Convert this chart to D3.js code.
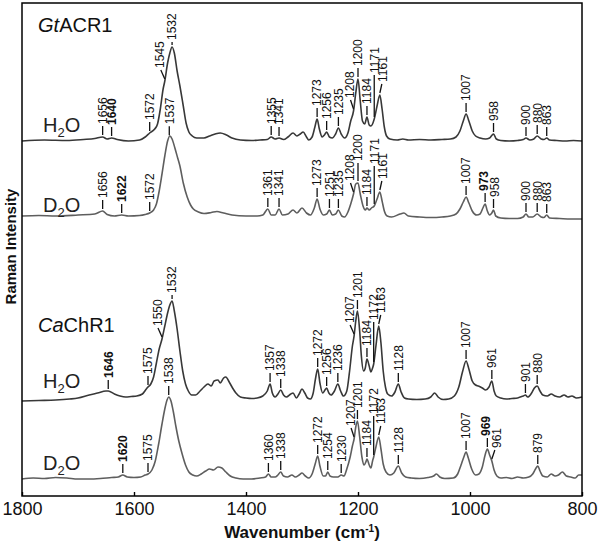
<!DOCTYPE html>
<html>
<head>
<meta charset="utf-8">
<script src="https://cdnjs.cloudflare.com/ajax/libs/d3/7.8.5/d3.min.js"></script>
<style>
  body { margin: 0; background: #fff; }
  svg { font-family: "Liberation Sans", Arial, sans-serif; }
</style>
</head>
<body>
<svg width="600" height="546"></svg>
<script>
// spectra: [wavenumber, intensity above trace baseline]
const gtH2O = [[1800,0],[1760,1],[1720,0.5],[1690,1.5],[1670,2.5],[1656,4],[1648,2],[1640,3],[1630,1.5],[1610,0],[1590,1],[1580,4],[1572,8],[1563,12],[1558,17],[1553,32],[1548,52],[1545,60],[1540,78],[1536,88],[1532,94],[1528,88],[1523,70],[1518,55],[1512,35],[1507,18],[1502,9],[1496,5],[1488,3],[1475,3],[1465,5],[1455,7],[1446,8],[1435,6],[1425,3],[1410,1],[1390,0.5],[1375,1],[1362,1.5],[1355,4],[1348,2],[1341,3],[1333,1.5],[1325,4],[1316,8],[1309,5],[1303,7],[1298,9],[1292,4],[1288,1],[1282,4],[1277,14],[1273,22],[1269,12],[1264,4],[1260,6],[1256,9],[1251,4],[1246,3],[1240,7],[1235,13],[1230,7],[1224,3],[1218,8],[1213,20],[1208,30],[1204,48],[1200,62],[1196,40],[1192,20],[1188,17],[1184,24],[1180,16],[1177,15],[1171,22],[1166,35],[1161,46],[1157,32],[1153,14],[1149,5],[1143,2],[1130,1],[1120,2],[1110,1],[1090,1.5],[1070,1],[1050,1.5],[1035,2],[1025,4],[1018,10],[1012,20],[1007,27],[1002,20],[996,10],[990,5],[982,3],[972,2],[965,3],[958,7],[953,2],[945,0.5],[930,0],[915,0.5],[905,1.5],[900,3],[893,1],[886,2],[880,5],[873,2],[868,1.5],[863,3],[858,1],[845,0.5],[830,0],[815,0.5],[800,0]];

const gtD2O = [[1800,0],[1770,0.5],[1740,0],[1700,1],[1670,2],[1656,5],[1648,1.5],[1635,0],[1622,1],[1610,0],[1590,0.5],[1580,1.5],[1572,3],[1565,6],[1560,12],[1555,25],[1550,42],[1545,60],[1540,75],[1536,80],[1532,77],[1527,68],[1522,58],[1518,50],[1512,33],[1505,19],[1499,11],[1494,7],[1485,4],[1475,2.5],[1462,3.5],[1452,4.5],[1440,3],[1425,1],[1400,0],[1380,0],[1370,1],[1361,7],[1355,1],[1348,1],[1341,7],[1335,1],[1325,2],[1316,6],[1309,3],[1300,8],[1292,3],[1285,1],[1278,8],[1273,17],[1268,7],[1262,1],[1256,2],[1251,6],[1246,1],[1240,2],[1235,6],[1229,0],[1224,-1],[1218,4],[1213,12],[1208,22],[1204,32],[1200,33],[1196,22],[1191,10],[1187,6],[1184,8],[1180,6],[1176,8],[1171,10],[1166,17],[1161,24],[1157,15],[1153,5],[1148,0],[1140,-1],[1125,2],[1118,3],[1110,0],[1090,-1],[1070,-1.5],[1050,-1],[1035,0],[1025,2],[1018,7],[1012,14],[1007,19],[1002,13],[996,5],[988,1],[982,2],[977,8],[973,12],[969,5],[965,1],[961,3],[958,6],[954,0],[945,-2],[930,-2.5],[915,-2.5],[905,-1],[900,2],[895,-1],[888,-1],[880,2],[873,-1],[868,-1.5],[863,1],[858,-2],[840,-2.5],[820,-3],[800,-3]];

const caH2O = [[1800,0],[1770,0.5],[1740,1],[1715,2],[1700,3],[1680,6],[1665,8],[1650,10],[1646,10],[1635,7],[1625,5],[1615,4],[1605,4.5],[1595,5],[1585,7],[1578,12],[1575,14],[1570,17],[1565,24],[1560,38],[1555,52],[1550,62],[1545,75],[1540,88],[1536,96],[1532,100],[1528,90],[1523,72],[1518,50],[1513,30],[1508,17],[1503,10],[1497,6],[1490,6],[1482,10],[1475,14],[1468,17],[1462,15],[1457,20],[1450,21],[1446,18],[1440,23],[1436,24],[1430,19],[1424,13],[1418,8],[1410,4],[1400,3],[1390,2.5],[1380,3],[1370,5],[1362,10],[1357,17],[1353,8],[1348,4],[1343,7],[1338,11],[1333,6],[1328,4],[1320,7],[1316,8],[1310,3],[1305,7],[1300,12],[1295,8],[1290,3],[1285,2],[1280,8],[1276,22],[1272,32],[1268,18],[1263,8],[1259,11],[1256,13],[1252,8],[1248,6],[1242,10],[1236,17],[1231,10],[1226,5],[1220,10],[1215,30],[1210,55],[1207,65],[1204,80],[1201,90],[1197,70],[1194,45],[1190,30],[1187,33],[1184,42],[1180,35],[1177,29],[1174,33],[1172,37],[1168,55],[1163,75],[1159,58],[1155,30],[1151,14],[1147,7],[1140,5],[1134,9],[1128,17],[1123,9],[1117,3],[1110,2],[1095,1.5],[1080,2],[1070,4],[1063,8],[1057,4],[1048,1.5],[1038,2],[1028,5],[1020,14],[1013,30],[1007,40],[1002,32],[996,20],[990,16],[985,15],[978,13],[972,11],[966,14],[961,20],[957,10],[953,5],[945,3],[935,2],[925,2.5],[915,3],[905,5],[901,6],[897,4],[890,8],[885,13],[880,15],[875,10],[870,6],[862,5],[855,7],[848,5],[840,4],[832,6],[825,4],[818,5],[810,3],[800,4]];

const caD2O = [[1800,0],[1780,1],[1760,0.5],[1740,1.5],[1720,1],[1700,0],[1680,0],[1660,0.5],[1640,1.5],[1628,2],[1620,4],[1612,2],[1600,1.5],[1588,2],[1580,4],[1575,5],[1568,9],[1562,18],[1556,35],[1550,55],[1545,70],[1541,79],[1538,82],[1534,78],[1530,68],[1525,52],[1520,38],[1514,25],[1508,14],[1502,7],[1495,4],[1488,3],[1480,5],[1472,8],[1465,10],[1458,9],[1450,12],[1443,11],[1436,7],[1428,3],[1418,1],[1405,0],[1390,0],[1375,1],[1365,2],[1360,5],[1355,2],[1348,2],[1343,4],[1338,7],[1333,3],[1326,2],[1318,4],[1312,2],[1305,4],[1300,6],[1294,3],[1288,1],[1282,5],[1276,16],[1272,23],[1268,13],[1262,3],[1258,3],[1254,7],[1250,3],[1244,2],[1236,2],[1230,4],[1225,3],[1220,10],[1214,22],[1210,33],[1207,40],[1204,52],[1201,58],[1197,42],[1193,22],[1189,14],[1186,17],[1184,20],[1180,14],[1177,11],[1174,18],[1172,22],[1168,32],[1163,42],[1159,30],[1155,15],[1150,7],[1143,4],[1136,6],[1128,13],[1122,6],[1115,2],[1105,1],[1090,0.5],[1075,1.5],[1065,3],[1060,5],[1054,2],[1045,0.5],[1030,1],[1022,5],[1016,14],[1011,22],[1007,27],[1003,21],[997,10],[990,4],[984,5],[978,12],[973,24],[969,30],[965,24],[961,18],[957,9],[952,3],[945,1],[935,1.5],[925,0.5],[915,2],[905,1],[895,2],[888,5],[883,10],[879,13],[875,8],[870,3],[862,2],[855,5],[848,3],[842,4],[835,7],[828,3],[820,2],[812,1],[806,4],[800,4]];

// peak labels: [wavenumber, text, bold]
const gtH2OPeaks = [[1656,'1656',0],[1640,'1640',1],[1572,'1572',0],[1545,'1545',0],[1532,'1532',0],[1355,'1355',0],[1341,'1341',0],[1273,'1273',0],[1256,'1256',0],[1235,'1235',0],[1208,'1208',0],[1200,'1200',0],[1184,'1184',0],[1171,'1171',0],[1161,'1161',0],[1007,'1007',0],[958,'958',0],[900,'900',0],[880,'880',0],[863,'863',0]];
const gtD2OPeaks = [[1656,'1656',0],[1622,'1622',1],[1572,'1572',0],[1537,'1537',0],[1361,'1361',0],[1341,'1341',0],[1273,'1273',0],[1251,'1251',0],[1235,'1235',0],[1208,'1208',0],[1200,'1200',0],[1184,'1184',0],[1171,'1171',0],[1161,'1161',0],[1007,'1007',0],[973,'973',1],[958,'958',0],[900,'900',0],[880,'880',0],[863,'863',0]];
const caH2OPeaks = [[1646,'1646',1],[1575,'1575',0],[1550,'1550',0],[1532,'1532',0],[1357,'1357',0],[1338,'1338',0],[1272,'1272',0],[1256,'1256',0],[1236,'1236',0],[1207,'1207',0],[1201,'1201',0],[1184,'1184',0],[1172,'1172',0],[1163,'1163',0],[1128,'1128',0],[1007,'1007',0],[961,'961',0],[901,'901',0],[880,'880',0]];
const caD2OPeaks = [[1620,'1620',1],[1575,'1575',0],[1538,'1538',0],[1360,'1360',0],[1338,'1338',0],[1272,'1272',0],[1254,'1254',0],[1230,'1230',0],[1207,'1207',0],[1201,'1201',0],[1184,'1184',0],[1172,'1172',0],[1163,'1163',0],[1128,'1128',0],[1007,'1007',0],[969,'969',1],[961,'961',0],[879,'879',0]];

const xTicks = [1800, 1600, 1400, 1200, 1000, 800];

// vertical offsets of the stacked traces (same units as intensity)
const traces = [
  { data: gtH2O, peaks: gtH2OPeaks, offset: 355, color: '#383838', solvent: 'H', labelY: 132 },
  { data: gtD2O, peaks: gtD2OPeaks, offset: 280, color: '#5e5e5e', solvent: 'D', labelY: 212 },
  { data: caH2O, peaks: caH2OPeaks, offset: 95, color: '#383838', solvent: 'H', labelY: 388 },
  { data: caD2O, peaks: caD2OPeaks, offset: 17, color: '#5e5e5e', solvent: 'D', labelY: 470 }
];

// tick tweaks for crowded / shoulder labels: len = tick length, dx = slant, lx = label shift
const tweaks = {
  '0-1532': { len: 3 }, '0-1545': { dx: -4 }, '0-1208': { dx: -3 }, '0-1161': { dx: 2 }, '0-1171': { len: 42 },
  '1-1200': { len: 18 }, '1-1171': { len: 38 }, '1-1208': { dx: -3 }, '1-1161': { dx: 2 }, '1-973': { lx: -1 }, '1-958': { lx: 1 },
  '2-1532': { len: 4 }, '2-1550': { dx: -4 }, '2-1207': { dx: -4 }, '2-1163': { dx: 2 }, '2-1172': { len: 40 },
  '3-1207': { dx: -3 }, '3-1163': { dx: 2 }, '3-1172': { len: 39 }, '3-969': { lx: -2 }, '3-961': { dx: 3, lx: 5 }
};

const svg = d3.select('svg');
const m = { top: 3, right: 18, bottom: 50, left: 22 };
const width = +svg.attr('width') - m.left - m.right;
const height = +svg.attr('height') - m.top - m.bottom;
const g = svg.append('g').attr('transform', `translate(${m.left}, ${m.top})`);

const x = d3.scaleLinear().domain([1800, 800]).range([0, width]);
const y = d3.scaleLinear().domain([0, height]).range([height, 0]);

const line = d3.line()
  .x(d => x(d[0]))
  .y(d => y(d[1]))
  .curve(d3.curveMonotoneX);

// value of a trace at a wavenumber (for placing the peak labels)
const valueAt = (data, wn) => {
  for (let i = 1; i < data.length; i++) {
    const a = data[i - 1], b = data[i];
    if (wn <= a[0] && wn >= b[0]) {
      const t = (a[0] - wn) / (a[0] - b[0]);
      return a[1] + t * (b[1] - a[1]);
    }
  }
  return 0;
};

traces.forEach((tr, ti) => {
  g.append('path')
    .datum(tr.data.map(d => [d[0], d[1] + tr.offset]))
    .attr('fill', 'none')
    .attr('stroke', tr.color)
    .attr('stroke-width', 1.6)
    .attr('stroke-linejoin', 'round')
    .attr('d', line);

  tr.peaks.forEach(([wn, txt, bold]) => {
    const tw = tweaks[`${ti}-${txt}`] || {};
    const len = tw.len || 9;
    const dx = tw.dx || 0;
    const lx = tw.lx !== undefined ? tw.lx : dx * 1.2;
    const px = x(wn);
    const py = y(valueAt(tr.data, wn) + tr.offset) - 2;
    g.append('line')
      .attr('x1', px).attr('y1', py)
      .attr('x2', px + dx).attr('y2', py - len)
      .attr('stroke', '#111')
      .attr('stroke-width', 1.3);
    g.append('text')
      .attr('transform', `translate(${px + lx}, ${py - len - 2}) rotate(-90)`)
      .attr('dy', '0.36em')
      .attr('font-size', 12)
      .attr('font-weight', bold ? 'bold' : 'normal')
      .attr('fill', '#111')
      .text(txt);
  });

  // H2O / D2O labels
  const lab = g.append('text')
    .attr('x', 21)
    .attr('y', tr.labelY - m.top)
    .attr('font-size', 20)
    .attr('fill', '#222');
  lab.append('tspan').text(tr.solvent);
  lab.append('tspan').attr('font-size', 13).attr('dy', 5).text('2');
  lab.append('tspan').attr('dy', -5).text('O');
});

// protein names
const names = [['Gt', 'ACR1', 32], ['Ca', 'ChR1', 332]];
names.forEach(([it, rest, yy]) => {
  const t = g.append('text')
    .attr('x', 16)
    .attr('y', yy - m.top)
    .attr('font-size', 20)
    .attr('fill', '#111');
  t.append('tspan').attr('font-style', 'italic').text(it);
  t.append('tspan').text(rest);
});

// frame
g.append('rect')
  .attr('width', width)
  .attr('height', height)
  .attr('fill', 'none')
  .attr('stroke', '#000')
  .attr('stroke-width', 1.5);

const xAxis = g.append('g')
  .attr('transform', `translate(0, ${height})`)
  .call(d3.axisBottom(x).tickValues(xTicks).tickSizeInner(-4).tickSizeOuter(0).tickPadding(6).tickFormat(d3.format('d')));
xAxis.select('.domain').remove();
xAxis.selectAll('line').attr('stroke', '#000').attr('stroke-width', 1.4);
xAxis.selectAll('text')
  .attr('font-size', 18)
  .attr('fill', '#111')
  .style('font-family', '"Liberation Sans", Arial, sans-serif');

const xl = svg.append('text')
  .attr('x', m.left + width / 2)
  .attr('y', 538)
  .attr('text-anchor', 'middle')
  .attr('font-size', 17)
  .attr('font-weight', 'bold')
  .attr('fill', '#111');
xl.append('tspan').text('Wavenumber (cm');
xl.append('tspan').attr('font-size', 10).attr('dy', -6).text('-1');
xl.append('tspan').attr('dy', 6).text(')');

svg.append('text')
  .attr('transform', `translate(11, ${m.top + height / 2 - 3}) rotate(-90)`)
  .attr('text-anchor', 'middle')
  .attr('dy', '0.35em')
  .attr('font-size', 15)
  .attr('font-weight', 'bold')
  .attr('fill', '#111')
  .text('Raman Intensity');
</script>
</body>
</html>
